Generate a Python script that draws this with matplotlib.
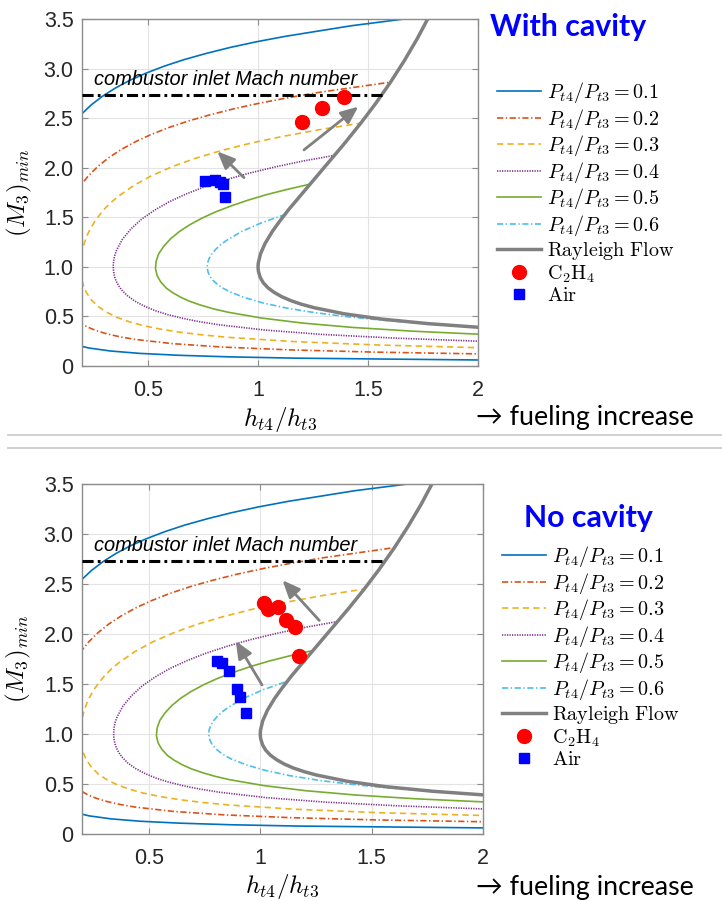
import numpy as np
import matplotlib
matplotlib.use('Agg')
import matplotlib.pyplot as plt
from matplotlib.lines import Line2D

plt.rcParams['mathtext.fontset'] = 'cm'
plt.rcParams['lines.scale_dashes'] = False

# curve points (h_t4/h_t3, M3)
p1_x = [2.028, 1.170, 0.870, 0.639, 0.463, 0.330, 0.232, 0.160, 0.160, 0.198, 0.242, 0.293, 0.351,
        0.416, 0.490, 0.572, 0.662, 0.763, 0.873, 0.994, 1.126, 1.424, 1.770]
p1_M = [0.060, 0.079, 0.092, 0.108, 0.127, 0.151, 0.181, 0.219, 2.440, 2.541, 2.634, 2.721, 2.803,
        2.880, 2.953, 3.023, 3.089, 3.152, 3.213, 3.271, 3.326, 3.432, 3.530]
p2_x = [2.030, 1.529, 1.138, 0.837, 0.608, 0.438, 0.371, 0.313, 0.264, 0.223, 0.189, 0.160, 0.160,
        0.191, 0.228, 0.271, 0.320, 0.377, 0.441, 0.513, 0.593, 0.683, 0.782, 0.891, 1.011, 1.141,
        1.283, 1.602]
p2_M = [0.121, 0.140, 0.163, 0.191, 0.226, 0.269, 0.295, 0.324, 0.357, 0.395, 0.439, 0.489, 1.703,
        1.814, 1.916, 2.011, 2.099, 2.182, 2.260, 2.334, 2.404, 2.471, 2.534, 2.595, 2.653, 2.708,
        2.762, 2.863]
p3_x = [2.029, 1.541, 1.158, 0.864, 0.745, 0.641, 0.553, 0.477, 0.412, 0.357, 0.311, 0.273, 0.243,
        0.220, 0.208, 0.199, 0.194, 0.192, 0.195, 0.201, 0.211, 0.224, 0.240, 0.259, 0.281, 0.305,
        0.333, 0.364, 0.435, 0.514, 0.606, 0.711, 0.830, 0.965, 1.115, 1.282, 1.467]
p3_M = [0.183, 0.212, 0.247, 0.289, 0.314, 0.342, 0.373, 0.408, 0.448, 0.492, 0.543, 0.600, 0.666,
        0.740, 0.800, 0.866, 0.936, 1.010, 1.087, 1.166, 1.244, 1.321, 1.392, 1.461, 1.527, 1.591,
        1.652, 1.710, 1.820, 1.917, 2.007, 2.092, 2.171, 2.247, 2.317, 2.385, 2.449]
p4_x = [2.029, 1.623, 1.293, 1.028, 0.818, 0.731, 0.655, 0.588, 0.530, 0.481, 0.439, 0.405, 0.378,
        0.365, 0.354, 0.347, 0.343, 0.342, 0.344, 0.349, 0.358, 0.384, 0.422, 0.470, 0.530, 0.595,
        0.671, 0.756, 0.852, 0.958, 1.076, 1.206, 1.349]
p4_M = [0.248, 0.281, 0.318, 0.363, 0.417, 0.448, 0.482, 0.519, 0.560, 0.606, 0.656, 0.711, 0.772,
        0.815, 0.861, 0.909, 0.959, 1.011, 1.064, 1.118, 1.173, 1.279, 1.382, 1.480, 1.572, 1.655,
        1.733, 1.807, 1.877, 1.944, 2.007, 2.068, 2.125]
p5_x = [2.029, 1.704, 1.430, 1.202, 1.015, 0.862, 0.798, 0.742, 0.692, 0.650, 0.614, 0.584, 0.558,
        0.541, 0.534, 0.537, 0.549, 0.572, 0.603, 0.643, 0.690, 0.745, 0.807, 0.877, 0.955, 1.040,
        1.134, 1.236]
p5_M = [0.318, 0.351, 0.389, 0.433, 0.484, 0.543, 0.576, 0.612, 0.650, 0.692, 0.737, 0.784, 0.847,
        0.913, 0.984, 1.058, 1.134, 1.209, 1.284, 1.357, 1.425, 1.491, 1.554, 1.614, 1.673, 1.729,
        1.782, 1.834]
p6_x = [1.767, 1.572, 1.402, 1.255, 1.130, 1.024, 0.937, 0.868, 0.840, 0.817, 0.797, 0.782, 0.773,
        0.769, 0.770, 0.777, 0.789, 0.807, 0.829, 0.857, 0.926, 1.014, 1.120]
p6_M = [0.428, 0.461, 0.498, 0.539, 0.584, 0.635, 0.691, 0.752, 0.786, 0.821, 0.860, 0.902, 0.945,
        0.989, 1.035, 1.081, 1.128, 1.175, 1.221, 1.267, 1.357, 1.443, 1.526]

ray_x = [2.030, 1.774, 1.562, 1.390, 1.253, 1.197, 1.148, 1.107, 1.073, 1.045, 1.024, 1.010, 1.002,
         1.000, 1.001, 1.011, 1.032, 1.065, 1.098, 1.139, 1.396, 1.468, 1.533, 1.602, 1.665, 1.724, 1.778]
ray_M = [0.386, 0.427, 0.473, 0.527, 0.589, 0.623, 0.660, 0.700, 0.743, 0.789, 0.839, 0.893, 0.952,
         0.993, 1.036, 1.130, 1.236, 1.357, 1.459, 1.577, 2.253, 2.452, 2.643, 2.862, 3.080, 3.303, 3.530]

inlet_M = 2.734
inlet_x = [0.2, 1.562]

# measured points
c2h4_top_x = [1.199, 1.291, 1.391]
c2h4_top_M = [2.459, 2.600, 2.714]
air_top_x = [0.76, 0.805, 0.825, 0.84, 0.85]
air_top_M = [1.87, 1.875, 1.86, 1.835, 1.70]
c2h4_bot_x = [1.015, 1.036, 1.08, 1.117, 1.157, 1.175]
c2h4_bot_M = [2.31, 2.25, 2.273, 2.14, 2.073, 1.78]
air_bot_x = [0.808, 0.83, 0.858, 0.896, 0.908, 0.938]
air_bot_M = [1.73, 1.71, 1.63, 1.45, 1.37, 1.21]

# (tail, head) of the trend arrows
arrows_top = [((0.936, 1.90), (0.815, 2.165)), ((1.209, 2.18), (1.456, 2.616))]
arrows_bot = [((1.008, 1.49), (0.89, 1.93)), ((1.265, 2.135), (1.10, 2.537))]

ratios = [0.1, 0.2, 0.3, 0.4, 0.5, 0.6]
curves = [(p1_x, p1_M), (p2_x, p2_M), (p3_x, p3_M), (p4_x, p4_M), (p5_x, p5_M), (p6_x, p6_M)]
colors = ['#0072BD', '#D95319', '#EDB120', '#7E2F8E', '#77AC30', '#4DBEEE']
styles = ['-', (0, (4.5, 1.8, 1.0, 1.8)), (0, (4.5, 3.0)), (0, (0.9, 0.9)), '-',
          (0, (4.5, 1.8, 1.0, 1.8))]

fig = plt.figure(figsize=(7.22, 9.01), dpi=100)
ax_top = fig.add_axes([0.1136, 0.5938, 0.5485, 0.3851])
ax_bot = fig.add_axes([0.1136, 0.0744, 0.5554, 0.3885])


def panel(ax, c2h4_x, c2h4_M, air_x, air_M, arrows, leg_xy, title, title_xy, fuel_xy, xlab_y):
    for p, (cx, cm), col, ls in zip(ratios, curves, colors, styles):
        ax.plot(cx, cm, color=col, linestyle=ls, lw=1.2,
                label=r'$P_{t4}/P_{t3} = %.1f$' % p)
    ax.plot(ray_x, ray_M, color='#808080', lw=2.5, label=r'$\mathrm{Rayleigh\ Flow}$')
    ax.plot(inlet_x, [inlet_M, inlet_M], color='black', lw=2.2,
            linestyle=(0, (8, 3, 2, 3)), zorder=3)
    ax.text(0.255, 2.886, 'combustor inlet Mach number', style='italic',
            fontsize=14.4, family='Liberation Sans', va='center', ha='left')
    for (x0, y0), (x1, y1) in arrows:
        ax.annotate('', xy=(x1, y1), xytext=(x0, y0),
                    arrowprops=dict(arrowstyle='-|>,head_length=0.75,head_width=0.32',
                                    color='#808080', lw=2, shrinkA=0, shrinkB=0,
                                    mutation_scale=14), zorder=4)
    ax.plot(c2h4_x, c2h4_M, 'o', color='red', ms=10, mec='red',
            label=r'$\mathrm{C_2H_4}$', zorder=5)
    ax.plot(air_x, air_M, 's', color='blue', ms=7.5, mec='blue',
            label=r'$\mathrm{Air}$', zorder=5)

    ax.set_xlim(0.2, 2)
    ax.set_ylim(0, 3.5)
    ax.set_xticks([0.5, 1, 1.5, 2])
    ax.set_xticklabels(['0.5', '1', '1.5', '2'])
    ax.set_yticks(np.arange(0, 3.51, 0.5))
    ax.set_yticklabels(['0', '0.5', '1.0', '1.5', '2.0', '2.5', '3.0', '3.5'])
    ax.grid(True, color='#e3e3e3', lw=0.8)
    ax.set_axisbelow(True)
    for s in ax.spines.values():
        s.set_color('#8c8c8c')
        s.set_linewidth(1.0)
    ax.tick_params(direction='in', length=4, color='#8c8c8c', top=True, right=True,
                   labelsize=15.5, labelcolor='#262626')
    ax.tick_params(axis='x', pad=10)
    ax.tick_params(axis='y', pad=6)
    for lab in ax.get_xticklabels() + ax.get_yticklabels():
        lab.set_family('Liberation Sans')
    ax.set_xlabel(r'$h_{t4}/h_{t3}$', fontsize=18)
    ax.set_ylabel(r'$(M_3)_{min}$', fontsize=18)
    ax.xaxis.set_label_coords(0.5, xlab_y)
    ax.yaxis.set_label_coords(-0.122, 0.5)

    ax.legend(loc='upper left', bbox_to_anchor=leg_xy, bbox_transform=fig.transFigure,
              frameon=False, borderpad=0, borderaxespad=0, handlelength=2.2,
              handletextpad=0.3, labelspacing=0.08, fontsize=14.5)
    fig.text(title_xy[0], title_xy[1], title, fontsize=21.8, weight='bold', color='#0000ff',
             family='Lato', ha='left', va='center')
    fig.text(fuel_xy[0], fuel_xy[1], '\u2192 fueling increase', fontsize=19.3,
             family=['Lato', 'DejaVu Sans'], ha='left', va='center')


panel(ax_top, c2h4_top_x, c2h4_top_M, air_top_x, air_top_M, arrows_top,
      (497 / 722, 1 - 80 / 901), 'With cavity', (490 / 722, 1 - 27 / 901),
      (476 / 722, 1 - 418 / 901), -0.112)
panel(ax_bot, c2h4_bot_x, c2h4_bot_M, air_bot_x, air_bot_M, arrows_bot,
      (502 / 722, 1 - 544 / 901), 'No cavity', (524 / 722, 1 - 518 / 901),
      (476 / 722, 1 - 887 / 901), -0.11)

# separator between the two panels
for yy in [435, 448]:
    fig.add_artist(Line2D([8 / 722, 1], [1 - yy / 901, 1 - yy / 901], color='#c8c8c8', lw=1.2))

fig.savefig('out.png', dpi=100)
